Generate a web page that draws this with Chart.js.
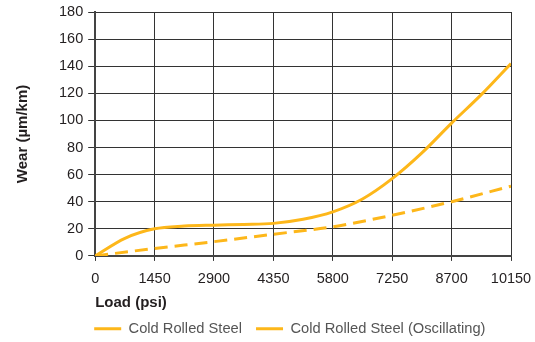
<!DOCTYPE html>
<html>
<head>
<meta charset="utf-8">
<script src="https://cdn.jsdelivr.net/npm/chart.js@4/dist/chart.umd.min.js"></script>
<style>
html,body{margin:0;padding:0;background:#fff;}
#wrap{width:535px;height:342px;}
</style>
</head>
<body>
<div id="wrap"><canvas id="c" width="535" height="342"></canvas></div>
<script>
const xTicks = [0, 1450, 2900, 4350, 5800, 7250, 8700, 10150];
const yTicks = [0, 20, 40, 60, 80, 100, 120, 140, 160, 180];

const solidLoads = [0, 725, 1450, 2175, 2900, 3625, 4350, 5075, 5800, 6525, 7250, 7975, 8700, 9425, 10150];
const solidWear  = [0, 13, 20, 22, 22.7, 23.2, 24, 27, 32.5, 42, 57, 76, 98, 119, 142];

const oscLoads = [0, 1450, 2900, 4350, 5800, 7250, 8700, 10150];
const oscWear  = [0, 5.5, 10.5, 16, 21.5, 30, 40, 51.5];

const seriesNames = ['Cold Rolled Steel', 'Cold Rolled Steel (Oscillating)'];

const toPts = (xs, ys) => xs.map((x, i) => ({x: x, y: ys[i]}));
const col = '#FDB71A';
const FONT = '"Liberation Sans", Arial, Helvetica, sans-serif';

const shiftLegend = {
  id: 'shiftLegend',
  afterLayout(chart) {
    const lg = chart.legend;
    const dx = chart.chartArea.left - 15 - lg.left;
    lg.left += dx; lg.right += dx;
  }
};

new Chart(document.getElementById('c'), {
  type: 'line',
  data: {
    datasets: [
      {label: seriesNames[0], data: toPts(solidLoads, solidWear), borderColor: col, backgroundColor: col,
       borderWidth: 3, pointRadius: 0, tension: 0.4, cubicInterpolationMode: 'monotone', fill: false},
      {label: seriesNames[1], data: toPts(oscLoads, oscWear), borderColor: col, backgroundColor: col,
       borderWidth: 3, borderDash: [13, 7], pointRadius: 0, tension: 0.4, cubicInterpolationMode: 'monotone', fill: false}
    ]
  },
  options: {
    responsive: false,
    animation: false,
    layout: {padding: {left: 14, right: 2, top: 0, bottom: -4}},
    plugins: {
      legend: {
        position: 'bottom', align: 'start',
        labels: {usePointStyle: true, pointStyle: 'line', pointStyleWidth: 27,
                 color: '#555', font: {family: FONT, size: 14.7}, padding: 14}
      },
      tooltip: {enabled: false}
    },
    scales: {
      x: {
        type: 'linear', min: 0, max: 10150,
        afterBuildTicks: (s) => { s.ticks = xTicks.map(v => ({value: v})); },
        afterFit: (s) => { s.paddingRight = 24; },
        ticks: {color: '#231f20', font: {family: FONT, size: 14.5}, padding: 9, maxRotation: 0, autoSkip: false,
                callback: (v) => String(v)},
        grid: {color: '#333', lineWidth: 1, tickLength: 5, drawOnChartArea: true},
        border: {color: '#444', width: 2},
        title: {display: true, text: 'Load (psi)', align: 'start', color: '#231f20',
                font: {family: FONT, size: 15, weight: 'bold'}, padding: {top: -2, bottom: -5}}
      },
      y: {
        type: 'linear', min: 0, max: 180,
        afterBuildTicks: (s) => { s.ticks = yTicks.map(v => ({value: v})); },
        afterFit: (s) => { s.paddingTop = 12; },
        ticks: {color: '#231f20', font: {family: FONT, size: 14.5}, padding: 5, callback: (v) => String(v)},
        grid: {color: '#333', lineWidth: 1, tickLength: 7},
        border: {color: '#444', width: 2},
        title: {display: true, text: 'Wear (µm/km)', color: '#231f20',
                font: {family: FONT, size: 15, weight: 'bold'}, padding: {top: 0, bottom: 22}}
      }
    }
  },
  plugins: [shiftLegend]
});
</script>
</body>
</html>
